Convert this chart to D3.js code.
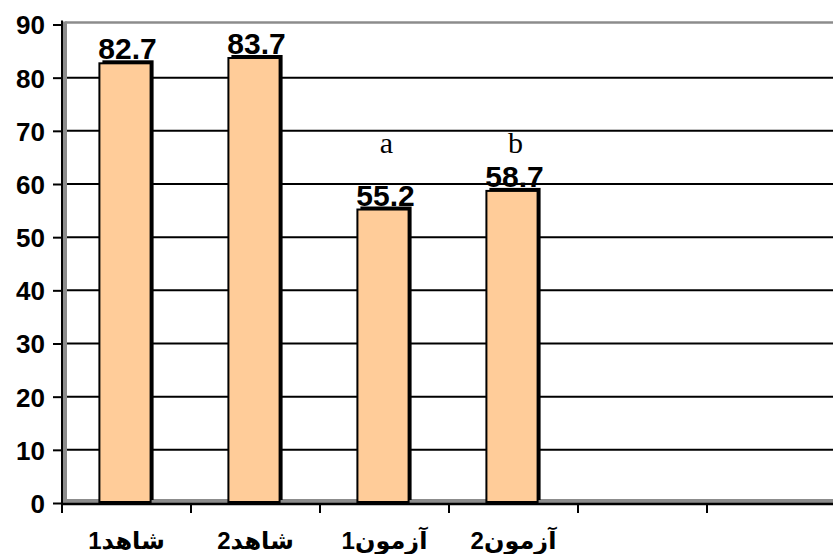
<!DOCTYPE html>
<html lang="fa">
<head>
<meta charset="utf-8" />
<title>chart</title>
<script src="https://cdnjs.cloudflare.com/ajax/libs/d3/7.8.5/d3.min.js"></script>
<style>
  body { margin: 0; background: #fff; overflow: hidden; }
  svg { display: block; }
</style>
</head>
<body>
<div id="chart"></div>
<script>
// chart data
var categories = ["شاهد1", "شاهد2", "آزمون1", "آزمون2", "", ""];
var values = [82.7, 83.7, 55.2, 58.7, null, null];
var valueLabels = ["82.7", "83.7", "55.2", "58.7", "", ""];
var letters = ["", "", "a", "b", "", ""];
var yTicks = [0, 10, 20, 30, 40, 50, 60, 70, 80, 90];

var W = 833, H = 554;
var plotLeft = 62, plotTop = 24.5, plotBottom = 503;

var svg = d3.select("#chart").append("svg")
    .attr("width", W).attr("height", H);

var x = d3.scaleBand()
    .domain(d3.range(categories.length))
    .range([plotLeft, plotLeft + 129 * categories.length])
    .paddingInner(0.58)
    .paddingOuter(0.29);

var y = d3.scaleLinear()
    .domain([0, 90])
    .range([plotBottom, plotTop]);

// walls (gray 3d frame)
svg.append("rect")
    .attr("x", plotLeft + 1).attr("y", plotTop - 3)
    .attr("width", 4).attr("height", plotBottom - plotTop + 3)
    .attr("fill", "#8c8c8c");
svg.append("line")
    .attr("x1", plotLeft + 3).attr("x2", W)
    .attr("y1", plotTop - 2).attr("y2", plotTop - 2)
    .attr("stroke", "#8c8c8c").attr("stroke-width", 2.5);
svg.append("rect")
    .attr("x", plotLeft + 1).attr("y", plotBottom - 4)
    .attr("width", W - plotLeft).attr("height", 4)
    .attr("fill", "#8c8c8c");

// gridlines
svg.append("g").selectAll("line")
    .data(yTicks.filter(function(d){ return d > 0 && d < 90 }))
    .enter().append("line")
      .attr("x1", plotLeft + 5).attr("x2", W)
      .attr("y1", function(d){ return y(d) }).attr("y2", function(d){ return y(d) })
      .attr("stroke", "#000").attr("stroke-width", 2);

// y axis
var yAxis = svg.append("g")
    .attr("transform", "translate(" + plotLeft + ",0)")
    .call(d3.axisLeft(y).tickValues(yTicks).tickSize(9).tickPadding(8));
yAxis.select(".domain").attr("stroke", "#000").attr("stroke-width", 2)
    .attr("d", "M0," + (plotTop - 4) + "V" + (plotBottom + 1));
yAxis.selectAll(".tick line").attr("stroke", "#000").attr("stroke-width", 2);
yAxis.selectAll(".tick text")
    .attr("font-family", "'Liberation Sans', Arial, sans-serif")
    .attr("font-weight", "bold").attr("font-size", 26).attr("fill", "#000")
    .attr("dy", "0.36em");

// x axis
var xTickPos = d3.range(categories.length + 1).map(function(i){ return plotLeft + 129 * i });
svg.append("line")
    .attr("x1", plotLeft - 1).attr("x2", W)
    .attr("y1", plotBottom + 1).attr("y2", plotBottom + 1)
    .attr("stroke", "#000").attr("stroke-width", 2.5);
svg.append("g").selectAll("line")
    .data(xTickPos)
    .enter().append("line")
      .attr("x1", function(d){ return d }).attr("x2", function(d){ return d })
      .attr("y1", plotBottom).attr("y2", plotBottom + 10)
      .attr("stroke", "#000").attr("stroke-width", 2);

// bars
var depth = 3;
var barData = values.map(function(v, i){ return { i: i, v: v } })
    .filter(function(d){ return d.v !== null });

var bars = svg.append("g").selectAll("g")
    .data(barData)
    .enter().append("g");

bars.append("rect")
    .attr("x", function(d){ return x(d.i) + depth })
    .attr("y", function(d){ return y(d.v) - depth })
    .attr("width", x.bandwidth() - depth)
    .attr("height", function(d){ return plotBottom - y(d.v) })
    .attr("fill", "#000");

bars.append("rect")
    .attr("x", function(d){ return x(d.i) })
    .attr("y", function(d){ return y(d.v) })
    .attr("width", x.bandwidth() - depth)
    .attr("height", function(d){ return plotBottom - y(d.v) - 1 })
    .attr("fill", "#ffcc99")
    .attr("stroke", "#000").attr("stroke-width", 2);

// value labels
bars.append("text")
    .attr("x", function(d){ return x(d.i) + x.bandwidth() / 2 + 1 })
    .attr("y", function(d){ return y(d.v) - 4 })
    .attr("text-anchor", "middle")
    .attr("font-family", "'Liberation Sans', Arial, sans-serif")
    .attr("font-weight", "bold").attr("font-size", 30)
    .text(function(d){ return valueLabels[d.i] });

// significance letters
svg.append("g").selectAll("text")
    .data(letters.map(function(l, i){ return { i: i, l: l } }).filter(function(d){ return d.l }))
    .enter().append("text")
      .attr("x", function(d){ return x(d.i) + x.bandwidth() / 2 + 2 })
      .attr("y", y(65.9))
      .attr("text-anchor", "middle")
      .attr("font-family", "'Liberation Serif', 'Times New Roman', serif")
      .attr("font-size", 30)
      .text(function(d){ return d.l });

// category labels
svg.append("g").selectAll("text")
    .data(categories.map(function(c, i){ return { i: i, c: c } }).filter(function(d){ return d.c }))
    .enter().append("text")
      .attr("x", function(d){ return x(d.i) + x.bandwidth() / 2 })
      .attr("y", 549)
      .attr("text-anchor", "middle")
      .attr("font-family", "'Liberation Sans', 'DejaVu Sans', 'Noto Sans', sans-serif")
      .attr("font-weight", "bold").attr("font-size", 24)
      .text(function(d){ return d.c });
</script>
</body>
</html>
